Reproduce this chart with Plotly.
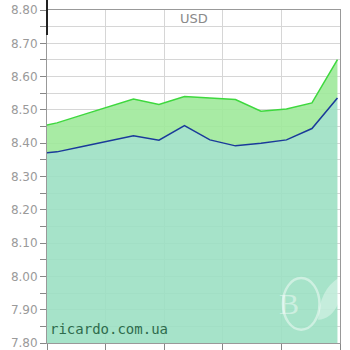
import plotly.graph_objects as go

# data
idx = list(range(13))
usd_low = [8.368, 8.374, 8.390, 8.406, 8.422, 8.409, 8.453, 8.410, 8.392, 8.400, 8.410, 8.444, 8.536]
usd_high = [8.445, 8.461, 8.485, 8.509, 8.533, 8.516, 8.540, 8.536, 8.531, 8.496, 8.503, 8.521, 8.651]
y_ticks = [7.8 + 0.1 * i for i in range(11)]
y_labels = [f"{v:.2f}" for v in y_ticks]

fig = go.Figure()
fig.add_trace(go.Scatter(x=idx, y=usd_low, mode="lines",
                         line=dict(color="#1a3a9a", width=1.5),
                         fill="tozeroy", fillcolor="rgba(156,224,195,0.9)", hoverinfo="skip"))
fig.add_trace(go.Scatter(x=idx, y=usd_high, mode="lines",
                         line=dict(color="#3ed83e", width=1.5),
                         fill="tonexty", fillcolor="rgba(159,233,154,0.9)", hoverinfo="skip"))

grid = "#d6d6d6"
fig.update_layout(
    width=350, height=350,
    margin=dict(l=47, r=10, t=10, b=7),
    paper_bgcolor="white", plot_bgcolor="white",
    showlegend=False,
    font=dict(family="DejaVu Sans", color="#9a9a9a", size=12),
    xaxis=dict(range=[0.61, 12.1], tick0=0.61, dtick=2.298, showticklabels=False,
               showgrid=True, gridcolor=grid, gridwidth=1, automargin=False,
               ticks="outside", ticklen=8, tickcolor="#888",
               showline=True, linecolor="#999", mirror=True, zeroline=False),
    yaxis=dict(range=[7.8, 8.8], tickvals=y_ticks, ticktext=y_labels,
               showgrid=True, gridcolor=grid, gridwidth=1, automargin=False,
               ticklabeloverflow="allow",
               ticks="outside", ticklen=6, tickcolor="#888",
               minor=dict(dtick=0.05, tick0=7.8, ticks="outside", ticklen=6, tickcolor="#888",
                          showgrid=True, gridcolor=grid),
               showline=True, linecolor="#999", mirror=True, zeroline=False,
               tickfont=dict(size=12, color="#9a9a9a")),
)

fig.add_annotation(text="USD", xref="paper", yref="paper", x=0.5, y=0.973,
                   showarrow=False, font=dict(size=13, color="#8a8a8a"),
                   xanchor="center", yanchor="middle")
fig.add_annotation(text="ricardo.com.ua", xref="paper", yref="paper", x=0.003, y=0.012,
                   showarrow=False, font=dict(family="DejaVu Sans Mono", size=14, color="#2e6b4c"),
                   xanchor="left", yanchor="bottom")
# watermark
fig.add_shape(type="circle", xref="paper", yref="paper",
              x0=0.805, x1=0.93, y0=0.04, y1=0.195,
              line=dict(color="rgba(255,255,255,0.45)", width=2.5))
fig.add_annotation(text="B", xref="paper", yref="paper", x=0.868, y=0.118,
                   showarrow=False, yanchor="middle",
                   font=dict(family="Liberation Serif", size=30, color="rgba(255,255,255,0.45)"))
fig.add_shape(type="path", xref="paper", yref="paper",
              path="M 0.925 0.07 Q 0.93 0.16 0.995 0.195 L 0.995 0.12 Q 0.97 0.07 0.925 0.07 Z",
              fillcolor="rgba(255,255,255,0.35)", line=dict(width=0))
# dark segment on left axis top
fig.add_shape(type="line", xref="paper", yref="paper", x0=0, x1=0, y0=0.925, y1=1.03,
              line=dict(color="#222", width=2))

fig.write_html("out.html")
